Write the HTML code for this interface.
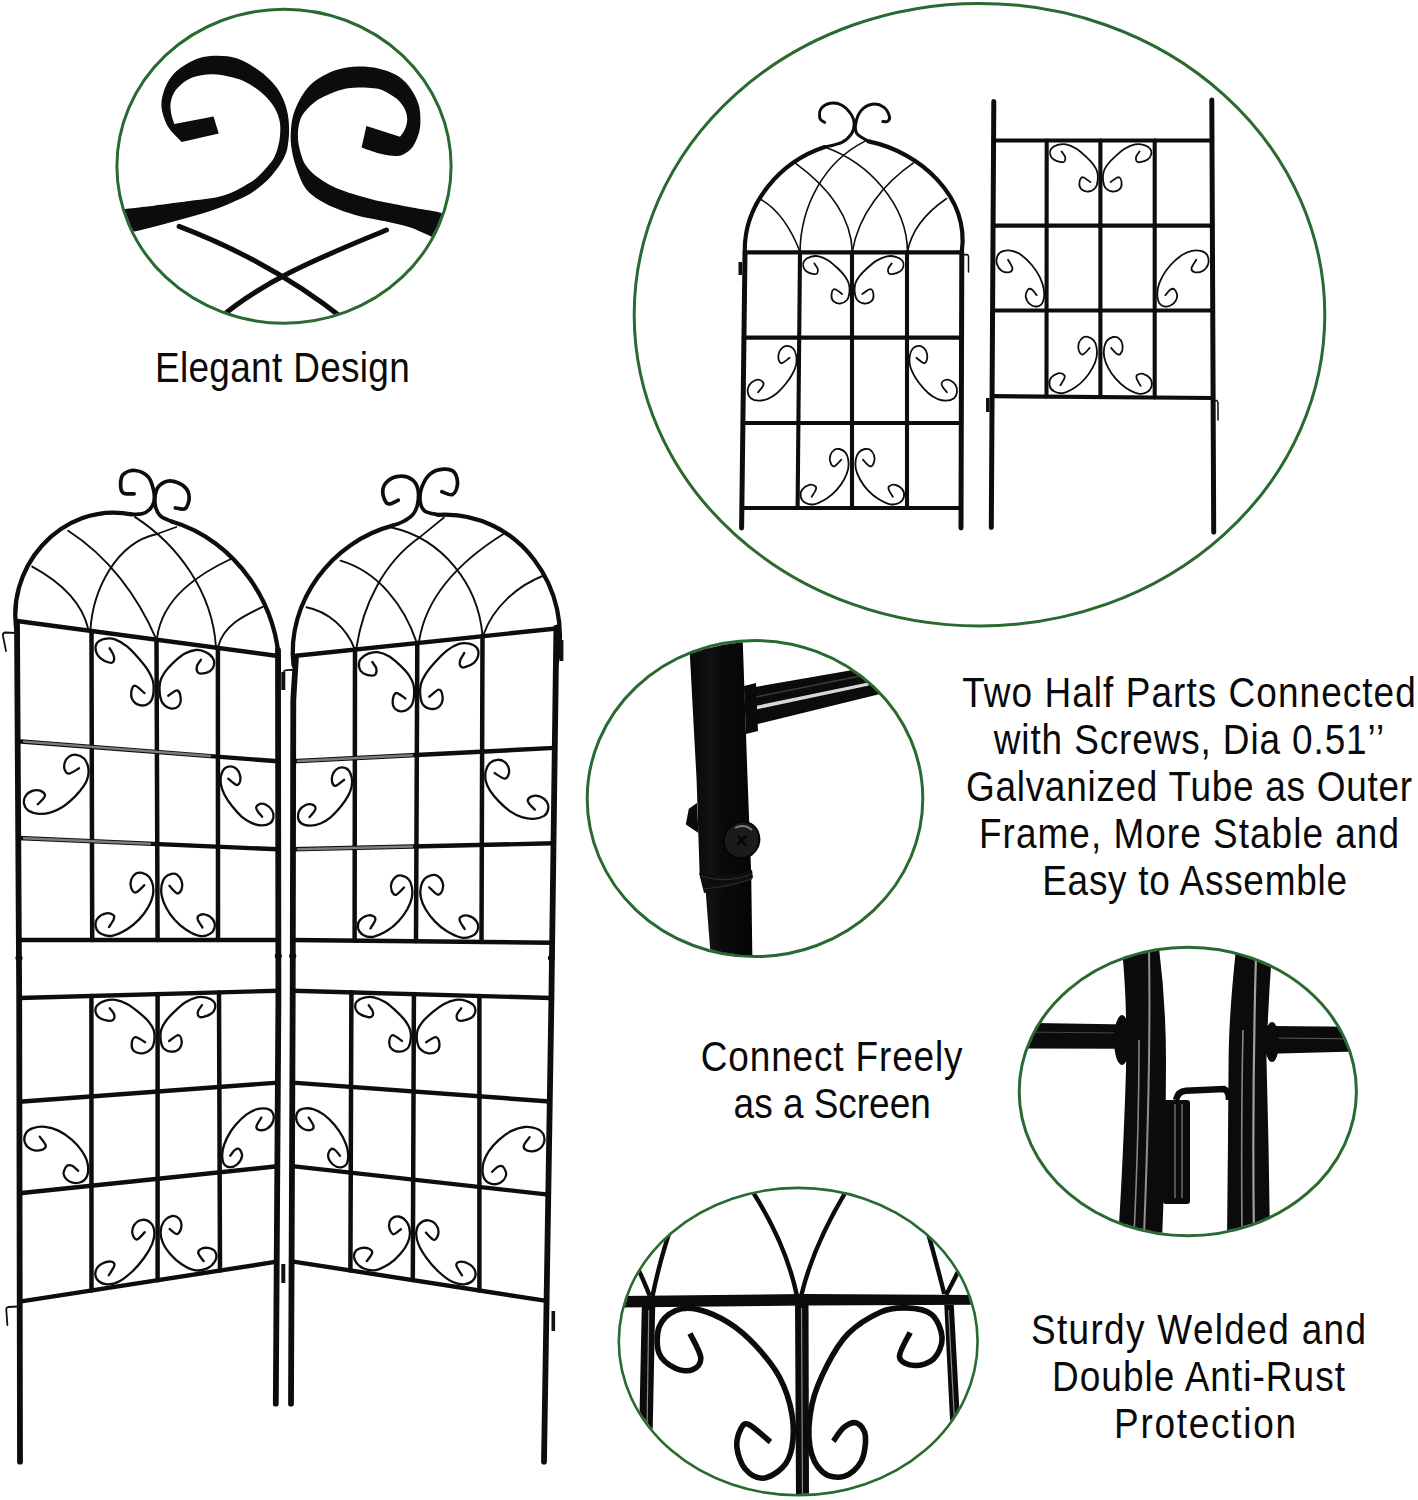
<!DOCTYPE html>
<html><head><meta charset="utf-8">
<style>
html,body{margin:0;padding:0;background:#fff;width:1418px;height:1500px;overflow:hidden}
svg{position:absolute;left:0;top:0;display:block}
text{font-family:"Liberation Sans",sans-serif;fill:#0a0a0a}
</style></head>
<body>
<svg width="1418" height="1500" viewBox="0 0 1418 1500">
<!-- defs -->
<defs>
<clipPath id="c1"><ellipse cx="284" cy="166.2" rx="165.8" ry="155.7"/></clipPath>
<clipPath id="c2"><ellipse cx="979.5" cy="314.7" rx="344" ry="310"/></clipPath>
<clipPath id="c3"><ellipse cx="755" cy="798.6" rx="166.5" ry="156.7"/></clipPath>
<clipPath id="c4"><ellipse cx="1187.8" cy="1091.5" rx="167.3" ry="142.9"/></clipPath>
<clipPath id="c5"><ellipse cx="798.2" cy="1341.6" rx="178.2" ry="152.5"/></clipPath>
</defs>

<!-- texts -->
<g id="texts">
<text transform="translate(155.00,381.5) scale(0.86,1)" x="0" y="0" font-size="43.0" textLength="296.28" lengthAdjust="spacing">Elegant Design</text>
<text transform="translate(962.20,706.7) scale(0.86,1)" x="0" y="0" font-size="43.0" textLength="527.44" lengthAdjust="spacing">Two Half Parts Connected</text>
<text transform="translate(993.80,754) scale(0.86,1)" x="0" y="0" font-size="43.0" textLength="453.95" lengthAdjust="spacing">with Screws, Dia 0.51’’</text>
<text transform="translate(966.00,800.8) scale(0.86,1)" x="0" y="0" font-size="43.0" textLength="518.60" lengthAdjust="spacing">Galvanized Tube as Outer</text>
<text transform="translate(979.00,847.5) scale(0.86,1)" x="0" y="0" font-size="43.0" textLength="488.37" lengthAdjust="spacing">Frame, More Stable and</text>
<text transform="translate(1042.20,895) scale(0.86,1)" x="0" y="0" font-size="43.0" textLength="354.42" lengthAdjust="spacing">Easy to Assemble</text>
<text transform="translate(700.80,1070.9) scale(0.86,1)" x="0" y="0" font-size="43.0" textLength="304.42" lengthAdjust="spacing">Connect Freely</text>
<text transform="translate(733.60,1118.2) scale(0.86,1)" x="0" y="0" font-size="43.0" textLength="229.30" lengthAdjust="spacing">as a Screen</text>
<text transform="translate(1031.00,1343.5) scale(0.86,1)" x="0" y="0" font-size="43.0" textLength="389.53" lengthAdjust="spacing">Sturdy Welded and</text>
<text transform="translate(1052.00,1391) scale(0.86,1)" x="0" y="0" font-size="43.0" textLength="340.70" lengthAdjust="spacing">Double Anti-Rust</text>
<text transform="translate(1114.00,1438) scale(0.86,1)" x="0" y="0" font-size="43.0" textLength="211.63" lengthAdjust="spacing">Protection</text>
</g>
<!-- circles -->
<g fill="none" stroke="#286a30" stroke-width="3">
<ellipse cx="284" cy="166.2" rx="167.1" ry="157"/>
<ellipse cx="979.5" cy="314.7" rx="345.3" ry="311.3"/>
<ellipse cx="755" cy="798.6" rx="167.8" ry="158"/>
<ellipse cx="1187.8" cy="1091.5" rx="168.6" ry="144.2"/>
<ellipse cx="798.2" cy="1341.6" rx="179.4" ry="153.7" stroke-width="2.6"/>
</g>

<!-- photo1 -->
<g clip-path="url(#c1)">
<path d="M181.7,142C179.6,139.7 172.2,133.1 169,128.3C165.8,123.6 163.9,118.1 162.7,113.5C161.5,108.9 161.1,105.4 161.6,100.8C162.1,96.2 163.8,90.6 165.9,86C168,81.4 170.8,77 174.3,73.3C177.8,69.6 182.8,66.4 187,63.8C191.2,61.2 195.3,59.2 199.7,57.9C204.1,56.6 208.9,56.1 213.5,55.8C218.1,55.5 222.8,55.7 227.2,56.3C231.6,56.9 235.5,57.7 239.9,59.5C244.3,61.3 249.3,64.1 253.7,66.9C258.1,69.7 262.5,72.9 266.4,76.4C270.3,79.9 274,83.9 277,88.1C280,92.3 282.5,97.2 284.3,101.8C286.1,106.4 287.2,111 288,115.6C288.8,120.2 289,125.1 289.1,129.3C289.2,133.5 288.9,137.2 288.4,141C287.9,144.8 287.6,148.5 286.3,152.3C285,156.1 283.1,159.8 280.7,163.6C278.3,167.4 275.3,171.4 272.2,174.9C269.1,178.4 265.8,181.8 262.3,184.8C258.8,187.9 255.2,190.6 251,193.2C246.8,195.8 241.6,198.1 236.9,200.3C232.2,202.5 227.5,204.7 222.8,206.6C218.1,208.5 213.9,209.8 208.7,211.5C203.5,213.2 197.7,214.8 191.8,216.5C185.9,218.2 179.6,219.8 173.5,221.4C167.4,223.1 161.4,224.8 155.1,226.4C148.8,228.1 141.5,229.8 135.4,231.3C129.3,232.8 124.4,234.1 118.5,235.5C112.6,236.9 103.1,239.2 100,240L100,211C103.1,210.7 114,209.8 118.5,209.4C123,209 121.3,209.3 126.9,208.7C132.5,208.1 144.5,206.8 152.3,205.9C160.1,205 166.4,204 173.5,203.1C180.6,202.2 187.5,201.2 194.6,200.3C201.7,199.4 209.9,198.6 215.8,197.4C221.7,196.2 225.2,195.1 229.9,193.2C234.6,191.3 239.8,188.5 244,186.2C248.2,183.8 251.8,181.9 255.3,179.1C258.8,176.3 262.3,172.2 265.1,169.2C267.9,166.1 270.3,163.6 272.2,160.8C274.1,158 275.2,155.6 276.4,152.3C277.6,149 278.6,144.7 279.3,141C280,137.3 280.2,133.8 280.3,130.4C280.4,127.1 280.3,124.2 279.6,120.9C278.9,117.6 277.6,113.7 275.9,110.3C274.2,106.9 272,103.8 269.5,100.8C267,97.8 264.1,94.9 261.1,92.3C258.1,89.7 255.1,87.5 251.6,85.4C248.1,83.3 244.1,81.2 239.9,79.6C235.7,78 230.6,76.8 226.2,75.9C221.8,75 217.4,74.5 213.5,74.3C209.6,74.1 206.4,74.4 202.9,74.9C199.4,75.4 195.8,76 192.3,77.5C188.8,79 184.7,81.4 181.7,83.9C178.7,86.4 176.2,89.1 174.3,92.3C172.5,95.5 171.1,99.4 170.6,102.9C170.1,106.4 170.6,110 171.2,113.5C171.8,117 173.8,122.2 174.3,124L213.5,116.6L218.8,133.6Z" fill="#0c0c0e"/>
<path d="M361.6,147.6C364.6,148.6 373.6,152.2 379.6,153.6C385.6,155 392.8,156.4 397.6,156C402.4,155.6 405.6,153.2 408.4,151.2C411.2,149.2 412.6,147.2 414.4,144C416.2,140.8 418.2,136 419.2,132C420.2,128 420.4,124.2 420.4,120C420.4,115.8 420.2,111 419.2,106.8C418.2,102.6 416.6,98.8 414.4,94.8C412.2,90.8 409.2,86.2 406,82.8C402.8,79.4 399.8,76.8 395.2,74.4C390.6,72 384.6,69.7 378.4,68.4C372.2,67.1 364.4,66.5 358,66.6C351.6,66.7 345.4,67.7 340,69C334.6,70.3 330.4,71.9 325.6,74.4C320.8,76.9 315.4,80 311.2,84C307,88 303.4,93.2 300.4,98.4C297.4,103.6 294.8,109.6 293.2,115.2C291.6,120.8 291.1,126.6 290.8,132C290.5,137.4 290.6,142 291.4,147.6C292.2,153.2 293.5,159.2 295.6,165.6C297.7,172 300.6,180.6 304,186C307.4,191.4 311,194.4 316,198C321,201.6 327.6,204.8 334,207.6C340.4,210.4 347.4,212.8 354.4,214.8C361.4,216.8 369.4,218.2 376,219.6C382.6,221 388,221.8 394,223.2C400,224.6 405.4,225.6 412,228C418.6,230.4 427.6,235 433.6,237.6C439.6,240.2 445.6,242.6 448,243.6L448,214.8C446.6,214.4 445.6,213.6 439.6,212.4C433.6,211.2 419.6,209 412,207.6C404.4,206.2 400,205.2 394,204C388,202.8 382,201.8 376,200.4C370,199 364,197.4 358,195.6C352,193.8 345.4,191.8 340,189.6C334.6,187.4 330,185 325.6,182.4C321.2,179.8 317,177 313.6,174C310.2,171 307.2,167.4 305.2,164.4C303.2,161.4 302.7,159.4 301.6,156C300.5,152.6 299.2,148 298.6,144C298,140 297.8,135.8 298,132C298.2,128.2 298.8,124.4 299.8,121.2C300.8,118 301.5,116 304,112.8C306.5,109.6 310.8,105 314.8,102C318.8,99 323.4,96.9 328,94.8C332.6,92.7 337.4,90.6 342.4,89.4C347.4,88.2 352.8,87.8 358,87.6C363.2,87.4 369.6,87.8 373.6,88.2C377.6,88.6 378.8,88.7 382,90C385.2,91.3 389.8,94 392.8,96C395.8,98 397.9,99.6 400,102C402.1,104.4 404.2,107.4 405.4,110.4C406.6,113.4 407.3,116.8 407.2,120C407.1,123.2 406,126.8 404.8,129.6C403.6,132.4 400.8,135.6 400,136.8L366.4,126Z" fill="#0c0c0e"/>
<g fill="none" stroke="#0c0c0e" stroke-width="5" stroke-linecap="round">
<path d="M179.1,226.4C238.5,249.1 295.2,280.3 345,320"/>
<path d="M386.5,230C327.1,254.7 263.8,278.9 215,322"/>
</g>
</g>
<!-- trellis2 -->
<g fill="none" stroke="#0d0d0d" stroke-linecap="round" stroke-linejoin="round">
<path d="M745,252.4 L741.6,528" stroke-width="5"/>
<path d="M961.8,252.4 L961,528" stroke-width="5"/>
<path d="M744.8,251.8C743.8,203.5 780.2,161.8 824.7,147.1" stroke-width="4.2"/>
<path d="M824.7,147.1C827.6,146.3 837.5,144.6 841.9,142.4C846.3,140.2 849.3,136.8 851.4,133.8C853.5,130.8 854.2,127.5 854.2,124.3C854.2,121.1 853.5,118 851.4,114.8C849.3,111.6 845.4,107.1 841.9,105.2C838.4,103.3 833.9,102.7 830.4,103.3C826.9,103.9 822.6,106.5 820.9,109C819.2,111.5 819.4,116.4 820,118.6C820.6,120.8 823.9,121.8 824.7,122.4" stroke-width="3.0"/>
<path d="M961.8,251.8C969.4,195.6 919.2,151.8 868.5,141.4" stroke-width="4.2"/>
<path d="M868.5,141.4C866.6,140.1 859.2,136.7 857.1,133.8C855,131 855,128.1 855.6,124.3C856.2,120.5 858.1,114.2 860.9,110.9C863.7,107.6 868.5,104.9 872.3,104.3C876.1,103.7 880.8,105 883.7,107.1C886.6,109.2 888.9,114.3 889.5,116.7C890.1,119.1 888.7,120.6 887.6,121.4C886.5,122.2 883.6,121.4 882.8,121.4" stroke-width="3.0"/>
<path d="M745,252.4L961.8,252.4" stroke-width="4.2"/>
<path d="M743.9,337.6L961.6,337.6" stroke-width="4.2"/>
<path d="M742.9,423L961.3,423" stroke-width="4.2"/>
<path d="M741.8,508L961.1,508" stroke-width="4.2"/>
<path d="M800,252.4L797.6,508" stroke-width="4.1"/>
<path d="M852,252.4L852,508" stroke-width="4.1"/>
<path d="M907,252.4L907,508" stroke-width="4.1"/>
<path d="M760.9,199.5Q785.1,213.3 800,251.8" stroke-width="1.6"/>
<path d="M794.3,162.4C823.5,183.4 851,213.5 852.3,251.8" stroke-width="1.6"/>
<path d="M800,251.8C800.7,206.9 823.6,161.9 864.7,141.4" stroke-width="1.6"/>
<path d="M824.7,147.1C868.3,162.7 907.1,203.6 907.5,251.8" stroke-width="1.6"/>
<path d="M852.3,251.8C858.3,214.6 883.8,183.2 914.2,162.4" stroke-width="1.6"/>
<path d="M907.5,251.8Q913,221.5 946.6,198.5" stroke-width="1.6"/>
<path d="M814.4,263.4C814.9,264.3 817.2,267.1 817.7,268.8C818.2,270.4 817.8,272.3 817.2,273.2C816.5,274.1 815.6,274.4 813.8,274.1C812,273.8 808.4,272.7 806.6,271.4C804.8,270.2 803.7,268.3 803.3,266.6C802.9,264.8 803.1,262.3 804.3,260.7C805.5,259.1 808.2,257.6 810.6,256.8C813,256.1 815.8,255.7 818.8,256.3C821.7,256.9 825.2,258.4 828.3,260.4C831.5,262.4 835.1,265.8 837.9,268.5C840.7,271.1 843.3,273.8 845.1,276.4C846.9,279 848.2,281.2 848.9,283.9C849.7,286.6 849.7,289.9 849.4,292.6C849.1,295.3 848.5,298.2 847,300C845.4,301.8 842.4,303.3 840.2,303.5C837.9,303.7 834.8,302.6 833.4,301.2C832,299.8 831.3,296.8 831.5,294.8C831.7,292.8 832.7,289.3 834.4,289.2C836.2,289 840.9,293.2 842.1,294" stroke-width="1.8"/>
<path d="M891.7,263.4C891.1,264.3 888.7,267.1 888.2,268.8C887.7,270.4 888,272.3 888.7,273.2C889.4,274.1 890.4,274.4 892.2,274.1C894.1,273.8 898,272.7 899.9,271.4C901.7,270.2 903,268.3 903.4,266.6C903.8,264.8 903.6,262.3 902.4,260.7C901.1,259.1 898.3,257.6 895.8,256.8C893.2,256.1 890.3,255.7 887.1,256.3C884,256.9 880.4,258.4 877,260.4C873.6,262.4 869.8,265.8 866.8,268.5C863.9,271.1 861.2,273.8 859.3,276.4C857.3,279 856,281.2 855.2,283.9C854.5,286.6 854.4,289.9 854.7,292.6C855.1,295.3 855.7,298.2 857.3,300C858.9,301.8 862,303.3 864.4,303.5C866.8,303.7 870,302.6 871.5,301.2C873,299.8 873.7,296.8 873.5,294.8C873.3,292.8 872.3,289.3 870.5,289.2C868.6,289 863.7,293.2 862.3,294" stroke-width="1.8"/>
<path d="M789.5,357.8C788.2,358.7 783.6,362.9 781.8,363.2C780,363.6 779.2,361.4 778.7,359.8C778.2,358.2 778.3,355.5 778.8,353.5C779.4,351.5 780.6,349.2 782.1,347.9C783.5,346.6 785.6,345.7 787.5,345.8C789.3,345.9 791.7,346.8 793.2,348.5C794.6,350.1 795.7,352.9 796.2,355.6C796.7,358.3 796.6,361.6 796.1,364.6C795.5,367.5 794.5,370.2 792.8,373.3C791.1,376.5 788.7,380.2 786,383.5C783.4,386.8 779.9,390.6 776.9,393.2C773.9,395.7 770.8,397.5 767.8,398.8C764.8,400 761.7,400.7 758.8,400.6C756,400.6 752.6,399.6 750.8,398.2C748.9,396.8 748,394.3 747.7,392.1C747.5,390 748,387.2 749.2,385.2C750.3,383.3 752.8,381.4 754.7,380.5C756.5,379.6 758.6,379.5 760,380C761.5,380.5 763.2,382.2 763.6,383.4C763.9,384.6 763.1,385.7 762.2,387.2C761.2,388.7 758.7,391.4 758,392.3" stroke-width="1.8"/>
<path d="M916.4,357.8C917.7,358.7 922.1,362.9 923.9,363.2C925.6,363.6 926.4,361.4 926.9,359.8C927.4,358.2 927.4,355.5 926.9,353.5C926.4,351.5 925.2,349.2 923.8,347.9C922.4,346.6 920.3,345.7 918.5,345.8C916.7,345.9 914.3,346.8 912.8,348.5C911.4,350.1 910.3,352.9 909.8,355.6C909.3,358.3 909.3,361.6 909.8,364.6C910.4,367.5 911.3,370.2 913,373.3C914.6,376.5 917,380.2 919.5,383.5C922.1,386.8 925.4,390.6 928.4,393.2C931.3,395.7 934.3,397.5 937.2,398.8C940.2,400 943.2,400.7 946,400.6C948.8,400.6 952.1,399.6 954,398.2C955.8,396.8 956.7,394.3 957,392.1C957.3,390 956.8,387.2 955.7,385.2C954.6,383.3 952.2,381.4 950.4,380.5C948.6,379.6 946.6,379.5 945.1,380C943.6,380.5 941.9,382.2 941.6,383.4C941.2,384.6 942,385.7 942.9,387.2C943.8,388.7 946.2,391.4 946.9,392.3" stroke-width="1.8"/>
<path d="M841.3,459.7C840.1,460.8 836.1,465.8 834.3,466.3C832.5,466.7 831,464.2 830.4,462.3C829.7,460.4 829.7,457.2 830.4,455.1C831.1,453 832.9,450.7 834.4,449.7C835.9,448.7 837.6,448.6 839.4,449C841.2,449.4 843.8,450.6 845.3,452.3C846.8,454.1 847.8,456.7 848.2,459.4C848.7,462.2 848.9,465.4 848.2,468.7C847.5,472 846.1,475.7 844.2,479.2C842.3,482.8 839.6,486.7 836.7,489.9C833.8,493.1 830.4,496.2 826.7,498.6C822.9,501 817.7,503.7 814.1,504.3C810.5,505 807.4,503.9 805.2,502.7C802.9,501.4 801.2,498.9 800.7,496.7C800.2,494.5 800.9,491.3 802.3,489.4C803.7,487.4 807.2,485.5 809.3,484.9C811.5,484.4 814.2,485.4 815.3,486.2C816.4,487 816.4,488.1 815.8,489.8C815.2,491.6 812.4,495.6 811.7,496.7" stroke-width="1.8"/>
<path d="M862.9,459.7C864.1,460.8 868.1,465.8 870,466.3C871.9,466.7 873.4,464.2 874,462.3C874.7,460.4 874.7,457.2 874,455.1C873.3,453 871.5,450.7 870,449.7C868.4,448.7 866.8,448.6 864.9,449C863.1,449.4 860.4,450.6 858.8,452.3C857.3,454.1 856.3,456.7 855.8,459.4C855.3,462.2 855.2,465.4 855.8,468.7C856.5,472 858,475.7 859.9,479.2C861.9,482.8 864.6,486.7 867.5,489.9C870.5,493.1 873.9,496.2 877.7,498.6C881.5,501 886.7,503.7 890.3,504.3C893.9,505 897.1,503.9 899.4,502.7C901.7,501.4 903.4,498.9 903.9,496.7C904.4,494.5 903.8,491.3 902.4,489.4C901,487.4 897.5,485.5 895.3,484.9C893.1,484.4 890.4,485.4 889.3,486.2C888.2,487 888.2,488.1 888.8,489.8C889.4,491.6 892.1,495.6 892.8,496.7" stroke-width="1.8"/>
<path d="M993.8,101.4 L991.3,527.5" stroke-width="5"/>
<path d="M1211.8,99.9 L1213.7,532.3" stroke-width="5"/>
<path d="M993.6,140.5L1212,140.5" stroke-width="4.2"/>
<path d="M993.1,225.6L1212.4,225.6" stroke-width="4.2"/>
<path d="M992.6,310.5L1212.7,310.5" stroke-width="4.2"/>
<path d="M992.1,396.2L1213.1,398" stroke-width="4.2"/>
<path d="M1046.7,140.5L1046.5,396.6" stroke-width="4.1"/>
<path d="M1100.4,140.5L1100.4,397.1" stroke-width="4.1"/>
<path d="M1154.7,140.5L1154.7,397.5" stroke-width="4.1"/>
<path d="M1061.6,151.5C1062.2,152.4 1064.6,155.2 1065.1,156.8C1065.6,158.5 1065.2,160.4 1064.6,161.3C1063.9,162.2 1062.9,162.4 1061.1,162.2C1059.3,161.9 1055.5,160.8 1053.7,159.5C1051.8,158.3 1050.6,156.4 1050.2,154.6C1049.8,152.9 1050,150.4 1051.2,148.8C1052.5,147.2 1055.2,145.7 1057.7,144.9C1060.2,144.2 1063,143.8 1066.1,144.4C1069.2,145 1072.7,146.5 1076,148.5C1079.3,150.5 1083,153.9 1085.9,156.6C1088.8,159.2 1091.4,161.9 1093.3,164.5C1095.2,167 1096.5,169.2 1097.3,171.9C1098,174.6 1098.1,178 1097.7,180.7C1097.4,183.4 1096.8,186.2 1095.2,188C1093.7,189.8 1090.6,191.3 1088.3,191.5C1086,191.7 1082.8,190.7 1081.3,189.2C1079.9,187.8 1079.2,184.9 1079.4,182.9C1079.5,180.9 1080.6,177.4 1082.4,177.2C1084.2,177.1 1089,181.2 1090.3,182" stroke-width="1.8"/>
<path d="M1139.6,151.5C1139,152.4 1136.6,155.2 1136.1,156.8C1135.6,158.5 1136,160.4 1136.6,161.3C1137.3,162.2 1138.3,162.4 1140.1,162.2C1142,161.9 1145.8,160.8 1147.6,159.5C1149.5,158.3 1150.7,156.4 1151.1,154.6C1151.6,152.9 1151.4,150.4 1150.1,148.8C1148.9,147.2 1146.1,145.7 1143.6,144.9C1141.1,144.2 1138.2,143.8 1135.1,144.4C1132,145 1128.4,146.5 1125.1,148.5C1121.7,150.5 1118,153.9 1115.1,156.6C1112.1,159.2 1109.5,161.9 1107.6,164.5C1105.6,167 1104.3,169.2 1103.6,171.9C1102.8,174.6 1102.8,178 1103.1,180.7C1103.4,183.4 1104,186.2 1105.6,188C1107.2,189.8 1110.3,191.3 1112.6,191.5C1115,191.7 1118.2,190.7 1119.7,189.2C1121.2,187.8 1121.8,184.9 1121.6,182.9C1121.5,180.9 1120.5,177.4 1118.6,177.2C1116.8,177.1 1111.9,181.2 1110.6,182" stroke-width="1.8"/>
<path d="M1008,259.7C1008.7,261.1 1012.2,266.1 1012.4,268.2C1012.6,270.3 1011.1,271.7 1009.4,272.2C1007.7,272.6 1004,272.2 1001.9,270.9C999.9,269.6 997.7,266.8 997,264.3C996.3,261.7 996.6,257.9 997.6,255.7C998.6,253.5 1000.6,252 1003,251.2C1005.4,250.4 1008.8,250.1 1012,250.8C1015.1,251.5 1018.6,253.1 1021.9,255.4C1025.2,257.8 1028.9,261.5 1031.8,265C1034.7,268.4 1037.3,272.2 1039.3,276.2C1041.2,280.2 1043.1,284.8 1043.7,288.9C1044.4,293.1 1044.2,298.3 1043.1,301.2C1042.1,304.1 1039.8,305.8 1037.7,306.3C1035.5,306.8 1032.2,306 1030.2,304.4C1028.2,302.8 1026.1,299.1 1025.7,296.6C1025.4,294.1 1027.1,290.5 1028.2,289.4C1029.3,288.2 1030.8,288.8 1032.2,289.7C1033.6,290.7 1035.9,294.2 1036.7,295.1" stroke-width="1.8"/>
<path d="M1196.3,259.7C1195.5,261.1 1191.7,266.1 1191.5,268.2C1191.2,270.3 1192.8,271.7 1194.7,272.2C1196.6,272.6 1200.5,272.2 1202.7,270.9C1205,269.6 1207.3,266.8 1208.1,264.3C1208.9,261.7 1208.5,257.9 1207.5,255.7C1206.4,253.5 1204.2,252 1201.6,251.2C1199,250.4 1195.3,250.1 1192,250.8C1188.6,251.5 1184.9,253.1 1181.3,255.4C1177.8,257.8 1173.7,261.5 1170.6,265C1167.5,268.4 1164.7,272.2 1162.6,276.2C1160.5,280.2 1158.5,284.8 1157.8,288.9C1157.1,293.1 1157.3,298.3 1158.4,301.2C1159.5,304.1 1161.9,305.8 1164.3,306.3C1166.6,306.8 1170.2,306 1172.3,304.4C1174.5,302.8 1176.8,299.1 1177.1,296.6C1177.5,294.1 1175.6,290.5 1174.4,289.4C1173.3,288.2 1171.7,288.8 1170.2,289.7C1168.7,290.7 1166.2,294.2 1165.4,295.1" stroke-width="1.8"/>
<path d="M1089.7,347.9C1088.6,349 1084.6,354.1 1082.8,354.5C1081,354.9 1079.5,352.3 1078.8,350.5C1078.2,348.6 1078.2,345.2 1078.8,343.1C1079.5,341 1081.3,338.7 1082.8,337.7C1084.3,336.7 1085.9,336.5 1087.8,336.9C1089.6,337.4 1092.2,338.6 1093.7,340.4C1095.2,342.1 1096.2,344.8 1096.6,347.6C1097.1,350.4 1097.3,353.7 1096.6,357.1C1096,360.4 1094.6,364.2 1092.6,367.7C1090.7,371.3 1088.1,375.3 1085.2,378.5C1082.3,381.8 1079,384.9 1075.3,387.3C1071.5,389.8 1066.4,392.4 1062.9,393.1C1059.3,393.7 1056.2,392.6 1053.9,391.3C1051.7,390 1050,387.4 1049.5,385.2C1049,382.9 1049.6,379.8 1051,377.8C1052.4,375.8 1055.8,373.9 1058,373.3C1060.1,372.8 1062.8,373.8 1063.9,374.7C1065,375.5 1065,376.5 1064.4,378.3C1063.8,380.1 1061.1,384.1 1060.4,385.3" stroke-width="1.8"/>
<path d="M1111.2,348C1112.3,349.1 1116.3,354.2 1118.2,354.6C1120,355.1 1121.5,352.5 1122.2,350.6C1122.8,348.7 1122.8,345.4 1122.1,343.2C1121.5,341.1 1119.6,338.8 1118.1,337.8C1116.6,336.7 1115,336.6 1113.1,337C1111.3,337.4 1108.7,338.6 1107.2,340.4C1105.7,342.2 1104.7,344.8 1104.2,347.6C1103.7,350.4 1103.5,353.7 1104.2,357.1C1104.9,360.5 1106.3,364.2 1108.2,367.8C1110.1,371.4 1112.8,375.4 1115.7,378.7C1118.6,382.1 1122,385.2 1125.7,387.7C1129.5,390.2 1134.6,392.9 1138.2,393.6C1141.8,394.4 1145,393.3 1147.2,392C1149.4,390.7 1151.2,388.2 1151.7,385.9C1152.2,383.6 1151.6,380.4 1150.2,378.4C1148.7,376.4 1145.3,374.4 1143.2,373.8C1141,373.3 1138.3,374.3 1137.2,375.1C1136.1,375.9 1136.1,377 1136.7,378.8C1137.3,380.6 1140,384.7 1140.7,385.9" stroke-width="1.8"/>
<path d="M962,255 L967,254.5 Q968.5,255 968.5,257 L968.5,272" stroke-width="1.5"/>
<path d="M1213,401 L1216.5,400.5 Q1218,401 1218,403 L1218,420" stroke-width="1.5"/>
</g>
<g fill="#111"><rect x="738.5" y="262" width="3.6" height="13"/><rect x="986" y="398" width="3.6" height="14"/></g>
<!-- photo3 -->
<g clip-path="url(#c3)">
<defs><linearGradient id="tubeV" x1="0" x2="1" y1="0" y2="0"><stop offset="0" stop-color="#060606"/><stop offset="0.35" stop-color="#121214"/><stop offset="0.55" stop-color="#0a0a0a"/><stop offset="1" stop-color="#050505"/></linearGradient><linearGradient id="tubeH" x1="0" x2="0" y1="0" y2="1"><stop offset="0" stop-color="#050505"/><stop offset="0.4" stop-color="#151515"/><stop offset="0.52" stop-color="#cfcfcf"/><stop offset="0.6" stop-color="#141414"/><stop offset="1" stop-color="#050505"/></linearGradient></defs>
<path d="M744,689 L848.4,670.7 L940,654 L940,677 L876,695 L749.5,726 Z" fill="#0b0b0b"/>
<path d="M753,706.5 L868,682.5 L869,685.5 L753.5,710 Z" fill="#d8d8d8"/>
<path d="M756,697 L860,676" stroke="#3c3c3c" stroke-width="1.5"/>
<path d="M744,686 L756,683 L758,731 L746,734 Z" fill="#0a0a0a"/>
<path d="M688,620 L742,620 L747.6,780 L751.2,873.6 L752.4,960 L711,960 L705.6,890.4 L699.6,873.6 L696.6,780 Z" fill="url(#tubeV)"/>
<path d="M699,873 Q725,880 752,870 L753,878 Q728,890 704,893 Z" fill="#0e0e0e"/>
<path d="M701,876 Q726,884 752,874 M703,889 Q727,887 752,879" fill="none" stroke="#2e2e2e" stroke-width="1.2"/>
<path d="M697,803 L688.8,808.8 L685.8,824.4 L698.4,833 Z" fill="#0a0a0a"/>
<ellipse cx="741.6" cy="840" rx="17.5" ry="18.5" transform="rotate(30 741.6 840)" fill="#1b1b1d" stroke="#050505" stroke-width="2"/>
<path d="M735,828 Q744,823 752,830" fill="none" stroke="#7a7a7a" stroke-width="2"/>
<path d="M737,845 L746,836 M738,836 L746,846" stroke="#050505" stroke-width="2.5"/>
</g>
<!-- photo4 -->
<g clip-path="url(#c4)">
<path d="M1121,940 Q1129,1010 1125,1100 Q1122,1180 1118,1240 L1162,1240 Q1166,1150 1166,1060 Q1166,1000 1158,940 Z" fill="#0b0b0b"/>
<path d="M1149,950 Q1151,1060 1144,1235" fill="none" stroke="#909090" stroke-width="2"/>
<path d="M1139,1040 Q1139,1130 1134,1235" fill="none" stroke="#858585" stroke-width="1.6"/>
<path d="M1237,940 Q1229,1010 1228.6,1060 Q1228,1150 1227,1240 L1270,1240 Q1269,1150 1266.5,1060 Q1268,1000 1273,940 Z" fill="#0b0b0b"/>
<path d="M1256,955 Q1252,1100 1254,1240" fill="none" stroke="#a0a0a0" stroke-width="2.2"/>
<path d="M1243,1030 Q1241,1120 1242,1235" fill="none" stroke="#888" stroke-width="1.6"/>
<path d="M1010,1022.5 L1128,1024.4 L1128,1048.8 L1010,1048.5 Z" fill="#0b0b0b"/>
<path d="M1020,1032 L1122,1033" stroke="#444" stroke-width="1.2"/>
<ellipse cx="1122" cy="1040" rx="8" ry="25" fill="#0b0b0b"/>
<path d="M1262,1025.8 L1370,1027 L1370,1051.2 L1262,1053.9 Z" fill="#0b0b0b"/>
<path d="M1272,1038 L1360,1039" stroke="#555" stroke-width="1.2"/>
<ellipse cx="1272" cy="1042" rx="7" ry="20" fill="#0b0b0b"/>
<path d="M1176,1100 Q1178,1091 1186,1090.7 L1224,1089 Q1229,1091 1229,1100" fill="none" stroke="#0b0b0b" stroke-width="6.5"/>
<rect x="1163" y="1100" width="27" height="104" rx="3" fill="#0b0b0b"/>
<path d="M1175,1104 L1175,1198 M1182,1104 L1182,1198" stroke="#7a7a7a" stroke-width="1.3"/>
</g>
<!-- photo5 -->
<g clip-path="url(#c5)" fill="none" stroke="#0b0b0b" stroke-linecap="butt">
<path d="M600,1296.3 L805,1294 L990,1295.1 L990,1304.7 L805,1305.5 L600,1307.8 Z" fill="#0b0b0b" stroke="none"/>
<path d="M641.8,1306 L655.2,1306 L652.5,1440 L639,1440 Z" fill="#0b0b0b" stroke="none"/>
<path d="M795,1300 L808.5,1300 L809,1500 L796,1500 Z" fill="#0b0b0b" stroke="none"/>
<path d="M944.3,1305 L953.8,1305 L961,1440 L951,1440 Z" fill="#0b0b0b" stroke="none"/>
<path d="M648.8,1310 L647,1430 M801.5,1308 L802.5,1500 M948.5,1310 L955,1430" stroke="#8a8a8a" stroke-width="1.2"/>
<path d="M745,1180C768.9,1215.2 788.3,1254.2 797,1296" stroke-width="4.4"/>
<path d="M853,1180Q814,1241.9 801.4,1295.1" stroke-width="4.4"/>
<path d="M672,1225C663.7,1248.1 657.5,1272 652.5,1296" stroke-width="4.4"/>
<path d="M632,1260Q637.3,1264.2 649.8,1296" stroke-width="4.4"/>
<path d="M925,1228Q923.9,1214.2 944.3,1294" stroke-width="4.4"/>
<path d="M962,1262Q960,1269.1 946,1295" stroke-width="4.4"/>
<path d="M690,1333.5C691.8,1337.5 700.3,1351.6 700.8,1357.6C701.2,1363.6 697,1367.9 692.7,1369.7C688.5,1371.5 680.9,1371 675.3,1368.3C669.7,1365.6 661.9,1360.5 659.2,1353.6C656.5,1346.7 656.5,1333.9 659.2,1326.8C661.9,1319.7 668.8,1313.6 675.3,1310.7C681.8,1307.8 689.2,1307.4 698.1,1309.4C707,1311.4 719.3,1316.8 728.9,1322.8C738.5,1328.8 747.2,1336.4 755.7,1345.6C764.2,1354.8 773.8,1366.3 779.8,1377.7C785.8,1389.1 789.9,1402.3 791.9,1413.9C793.9,1425.5 793.5,1438.5 791.9,1447.4C790.3,1456.3 787.4,1462.4 782.5,1467.5C777.6,1472.6 768.6,1478 762.4,1478.2C756.1,1478.4 749.2,1473.9 745,1468.8C740.8,1463.7 737.6,1454.1 736.9,1447.4C736.2,1440.7 739,1432.4 741,1428.6C743,1424.8 744.1,1422.4 749,1424.6C753.9,1426.8 766.8,1439.1 770.4,1442" stroke-width="5.6" stroke-linecap="butt"/>
<path d="M910.1,1332.5C908.3,1336.6 898.8,1351.5 899.5,1357C900.2,1362.5 908.7,1365.2 914.4,1365.5C920.1,1365.8 929,1363.7 933.6,1359.1C938.2,1354.5 942.5,1345.3 942.1,1337.8C941.8,1330.3 937.5,1319.3 931.5,1314.3C925.5,1309.3 914.4,1308.2 905.9,1307.9C897.4,1307.6 889.9,1307.9 880.3,1312.2C870.7,1316.5 857.2,1324.6 848.3,1333.5C839.4,1342.4 833,1353.8 827,1365.5C821,1377.2 815,1390.4 812.1,1403.9C809.2,1417.4 808.1,1435.1 809.9,1446.5C811.7,1457.9 817,1467.1 822.7,1472.1C828.4,1477.1 837.6,1478.2 844,1476.4C850.4,1474.6 857.5,1468.2 861.1,1461.5C864.7,1454.8 866.1,1442.3 865.4,1435.9C864.7,1429.5 860.4,1424.5 856.8,1423.1C853.2,1421.7 847.9,1424.3 844,1427.3C840.1,1430.3 835.2,1438.9 833.4,1441.2" stroke-width="5.6" stroke-linecap="butt"/>
</g>
<!-- trellis_main -->
<g fill="none" stroke="#0d0d0d" stroke-linecap="round" stroke-linejoin="round">
<path d="M20,1461.7 L19.2,1000 L17,624" stroke-width="5.8"/>
<path d="M278,650 L278.4,1000 L275.8,1403.7" stroke-width="5.8"/>
<path d="M17.9,637.5C1.9,569.2 61.1,500.7 131.7,514.3" stroke-width="4.3"/>
<path d="M131.7,514.3C133.4,514.2 139.2,514.6 142.2,513.8C145.2,513 147.6,511.5 149.6,509.5C151.6,507.5 153.2,505.3 153.9,502C154.6,498.7 154.5,494.1 153.5,489.9C152.5,485.7 151.2,479.9 148.1,476.7C145,473.5 139,470.9 134.9,470.5C130.8,470.1 125.7,472.1 123.3,474.4C120.9,476.7 120.6,481.4 120.6,484.5C120.6,487.6 121,491.4 123.3,493C125.5,494.6 132.3,493.7 134.1,493.8" stroke-width="3.7"/>
<path d="M278.8,672C281.3,606.4 235.1,539.8 171.7,521.5" stroke-width="4.3"/>
<path d="M171.7,521.5C169.8,520.6 163.2,518.6 160.4,515.9C157.7,513.1 155.8,509.3 155.2,505C154.6,500.7 155.1,493.7 156.6,489.9C158.1,486.1 161.6,483.6 164.4,482.2C167.2,480.8 170.2,480.5 173.7,481.4C177.2,482.3 182.7,484.9 185.3,487.6C187.9,490.3 189.2,494.2 189.2,497.7C189.2,501.2 187.6,506.8 185.3,508.5C183,510.2 177,507.9 175.3,507.8" stroke-width="3.7"/>
<path d="M17,621L278,656" stroke-width="4.4"/>
<path d="M17.7,741.2L278.1,761.3" stroke-width="4.4"/>
<path d="M18.3,838L278.2,849.3" stroke-width="4.4"/>
<path d="M18.8,940L278.3,940" stroke-width="4.4"/>
<path d="M19.2,998L278.4,990.7" stroke-width="4.4"/>
<path d="M19.4,1101.7L277.9,1082.6" stroke-width="4.4"/>
<path d="M19.5,1193.3L277.3,1166.3" stroke-width="4.4"/>
<path d="M19.7,1301.7L276.7,1261.7" stroke-width="4.4"/>
<path d="M91.5,631L92.2,940" stroke-width="4.5"/>
<path d="M156.5,639.7L157.6,940" stroke-width="4.5"/>
<path d="M217.9,647.9L218,940" stroke-width="4.5"/>
<path d="M91.4,996L91.5,1290.5" stroke-width="4.5"/>
<path d="M157.6,994.1L157.6,1280.2" stroke-width="4.5"/>
<path d="M219,992.4L220,1270.5" stroke-width="4.5"/>
<path d="M32.2,566.6C57.1,580.1 81.5,600.1 88.3,629.1" stroke-width="1.9"/>
<path d="M68.2,530.7C108,556.3 137.5,595.5 156,638.6" stroke-width="1.9"/>
<path d="M90.4,630.1C92.8,591 115.3,542.9 157,534" stroke-width="1.9"/>
<path d="M134.8,516.9C179,545.5 212.3,592.8 215.9,646.2" stroke-width="1.9"/>
<path d="M157,638.2C162.3,597.3 199,573.7 232.9,558" stroke-width="1.9"/>
<path d="M218.2,646.2C224.6,623.7 245.7,614.9 264.6,606" stroke-width="1.9"/>
<path d="M157,534 L176.3,527" stroke-width="1.7"/>
<path d="M109.6,648.3C110.3,649.5 113.2,653.7 113.8,656C114.4,658.2 114,660.8 113.2,661.9C112.4,663 111.2,663.2 109,662.5C106.8,661.9 102.2,659.9 100,657.9C97.8,655.9 96.3,653.2 95.8,650.8C95.3,648.3 95.5,645 97,643C98.5,641 101.8,639.4 104.8,638.8C107.8,638.2 111.3,638.1 115,639.3C118.7,640.6 123,643.2 127,646.4C131,649.6 135.5,654.7 139,658.7C142.5,662.7 145.7,666.6 148,670.3C150.3,674 151.9,677 152.9,680.7C153.8,684.4 153.9,688.8 153.5,692.3C153.1,695.8 152.4,699.5 150.5,701.7C148.6,703.9 144.9,705.5 142.1,705.5C139.3,705.5 135.5,703.7 133.7,701.6C131.9,699.5 131,695.5 131.2,692.9C131.4,690.2 132.6,685.7 134.8,685.7C137,685.8 142.9,691.9 144.5,693.1" stroke-width="2.3"/>
<path d="M200.9,659.8C200.2,660.9 197.5,664.2 196.9,666.2C196.4,668.2 196.7,670.8 197.5,672C198.3,673.3 199.4,673.8 201.5,673.6C203.5,673.5 207.9,672.6 209.9,671.3C212,669.9 213.4,667.7 213.9,665.5C214.4,663.3 214.2,660.1 212.7,657.9C211.3,655.6 208.2,653.3 205.4,652C202.5,650.6 199.2,649.7 195.7,650C192.2,650.3 188.2,651.7 184.4,653.8C180.6,656 176.4,659.8 173.1,662.9C169.9,666 166.9,669.2 164.7,672.3C162.6,675.4 161.1,678.1 160.2,681.6C159.4,685 159.3,689.4 159.7,693C160.1,696.6 160.8,700.4 162.6,703C164.4,705.5 167.9,707.8 170.5,708.3C173.2,708.9 176.7,707.9 178.4,706.2C180.1,704.5 180.9,700.8 180.7,698.1C180.5,695.5 179.3,690.8 177.2,690.4C175.2,690 169.7,694.8 168.2,695.7" stroke-width="2.3"/>
<path d="M79,768.3C77.3,769.2 71.3,773.5 68.9,773.7C66.5,773.9 65.4,771.4 64.7,769.6C64,767.7 64.1,764.7 64.8,762.5C65.5,760.3 67.1,757.9 69,756.6C70.9,755.3 73.7,754.5 76.2,754.8C78.7,755.1 81.9,756.4 83.9,758.3C85.8,760.3 87.3,763.5 88,766.5C88.7,769.5 88.7,773.2 88,776.4C87.3,779.7 86,782.5 83.8,785.9C81.6,789.2 78.3,793.1 74.9,796.6C71.4,800 66.9,804.1 62.9,806.7C58.9,809.3 54.9,811.1 50.9,812.3C46.9,813.5 42.7,814.1 38.9,813.8C35.1,813.5 30.7,812.2 28.2,810.5C25.7,808.7 24.4,805.8 24,803.4C23.6,800.9 24.3,797.8 25.8,795.7C27.3,793.5 30.6,791.6 33,790.7C35.4,789.9 38.2,790 40.1,790.6C42.1,791.3 44.4,793.3 44.9,794.7C45.4,796.1 44.3,797.3 43.1,798.9C41.9,800.5 38.6,803.4 37.7,804.3" stroke-width="2.3"/>
<path d="M228.3,778.7C229.7,779.7 234.6,784.4 236.6,784.9C238.5,785.4 239.4,783.3 240,781.6C240.5,779.9 240.5,777.1 239.9,774.9C239.4,772.8 238,770.3 236.5,768.9C234.9,767.4 232.6,766.3 230.6,766.3C228.6,766.2 226,767 224.4,768.6C222.8,770.2 221.6,773 221,775.8C220.5,778.6 220.5,782.2 221.1,785.3C221.7,788.5 222.7,791.3 224.5,794.7C226.3,798.2 229,802.2 231.8,805.8C234.7,809.5 238.4,813.7 241.6,816.6C244.9,819.4 248.2,821.5 251.4,822.9C254.7,824.4 258.1,825.3 261.2,825.4C264.3,825.5 268,824.7 270,823.3C272,822 273,819.5 273.4,817.2C273.7,815 273.1,812.1 271.8,810C270.6,807.9 267.9,805.8 266,804.8C264,803.8 261.7,803.5 260.1,803.9C258.5,804.3 256.6,806 256.2,807.2C255.8,808.4 256.7,809.7 257.7,811.3C258.7,812.9 261.4,815.8 262.1,816.7" stroke-width="2.3"/>
<path d="M144.4,885.2C143,886.4 138.2,892 136,892.4C133.8,892.9 132,890 131.2,887.8C130.4,885.7 130.4,881.9 131.2,879.6C132,877.2 134.2,874.7 136,873.6C137.8,872.5 139.8,872.4 142,872.9C144.2,873.5 147.4,874.9 149.2,876.9C151,879 152.2,882 152.9,885.1C153.5,888.2 153.7,891.9 152.9,895.6C152.1,899.3 150.4,903.4 148.1,907.4C145.8,911.4 142.6,915.8 139.1,919.4C135.6,923 131.6,926.5 127.1,929.3C122.6,932 116.3,935 112,935.8C107.7,936.5 103.9,935.3 101.2,933.8C98.5,932.3 96.4,929.4 95.8,926.9C95.2,924.3 95.9,920.7 97.6,918.4C99.3,916.2 103.4,913.9 106,913.4C108.6,912.8 111.9,914 113.2,914.9C114.5,915.9 114.5,917.1 113.8,919.1C113.1,921.1 109.8,925.7 109,927" stroke-width="2.3"/>
<path d="M169.4,885.8C170.7,887.1 175.2,892.8 177.2,893.3C179.3,893.8 180.9,891.1 181.7,889C182.4,886.9 182.4,883.3 181.6,880.9C180.9,878.6 178.8,876 177.2,874.8C175.5,873.6 173.6,873.4 171.6,873.8C169.5,874.3 166.6,875.5 164.9,877.4C163.3,879.3 162.2,882.2 161.6,885.3C161.1,888.4 160.9,892 161.7,895.8C162.4,899.5 164,903.7 166.2,907.7C168.3,911.7 171.3,916.1 174.6,919.7C177.9,923.4 181.6,926.8 185.8,929.5C189.9,932.2 195.7,935.2 199.7,935.9C203.6,936.7 207.2,935.5 209.7,934.1C212.1,932.7 214.1,930 214.6,927.6C215.2,925.1 214.5,921.7 212.9,919.5C211.4,917.3 207.6,915.1 205.1,914.5C202.7,913.9 199.7,915 198.5,915.9C197.3,916.8 197.3,917.9 197.9,919.8C198.6,921.8 201.7,926.2 202.4,927.5" stroke-width="2.3"/>
<path d="M109.8,1008.3C110.5,1009.4 113.5,1012.5 114.1,1014.4C114.7,1016.3 114.3,1018.6 113.4,1019.6C112.6,1020.7 111.4,1021.1 109.2,1020.8C106.9,1020.5 102.2,1019.5 100,1018.1C97.8,1016.7 96.2,1014.6 95.7,1012.5C95.2,1010.4 95.4,1007.5 97,1005.6C98.5,1003.6 101.9,1001.8 104.9,1000.8C108,999.8 111.6,999.3 115.3,999.8C119.1,1000.4 123.5,1002 127.5,1004.2C131.6,1006.4 136.2,1010.2 139.7,1013.1C143.3,1016.1 146.5,1019 148.9,1021.9C151.2,1024.8 152.8,1027.2 153.7,1030.2C154.6,1033.3 154.7,1037.2 154.3,1040.3C153.9,1043.4 153.2,1046.7 151.2,1048.8C149.3,1051 145.5,1052.9 142.7,1053.3C139.8,1053.7 136,1052.7 134.1,1051.2C132.3,1049.6 131.5,1046.2 131.7,1043.9C131.9,1041.6 133.1,1037.5 135.4,1037.2C137.6,1036.9 143.5,1041.4 145.1,1042.2" stroke-width="2.3"/>
<path d="M202,1005.2C201.3,1006.2 198.6,1009.4 198,1011.3C197.5,1013.1 197.9,1015.3 198.6,1016.3C199.4,1017.2 200.5,1017.5 202.6,1017.1C204.7,1016.7 209,1015.3 211.1,1013.8C213.2,1012.3 214.6,1010.2 215,1008.2C215.5,1006.2 215.3,1003.5 213.9,1001.8C212.4,1000 209.3,998.4 206.5,997.7C203.6,997 200.3,996.6 196.8,997.3C193.3,998.1 189.3,999.9 185.5,1002.3C181.7,1004.7 177.5,1008.7 174.2,1011.9C170.9,1015 167.9,1018.2 165.7,1021.2C163.5,1024.2 162,1026.8 161.2,1029.9C160.4,1033 160.3,1036.9 160.7,1039.9C161,1043 161.7,1046.2 163.5,1048.2C165.3,1050.1 168.8,1051.6 171.5,1051.7C174.1,1051.8 177.7,1050.4 179.4,1048.7C181.1,1047 181.9,1043.6 181.7,1041.4C181.5,1039.1 180.3,1035.2 178.3,1035.1C176.2,1035.1 170.7,1040 169.2,1041" stroke-width="2.3"/>
<path d="M39.7,1136.7C40.7,1138.2 45.3,1143.1 45.7,1145.3C46,1147.5 44,1149.2 41.7,1149.9C39.3,1150.6 34.5,1150.7 31.7,1149.5C28.9,1148.3 26,1145.6 25,1142.9C24,1140.3 24.4,1136.1 25.7,1133.6C27,1131.2 29.8,1129.3 33,1128.2C36.2,1127 40.8,1126.4 45,1126.8C49.2,1127.2 53.8,1128.4 58.3,1130.6C62.7,1132.7 67.8,1136.2 71.7,1139.6C75.5,1142.9 79,1146.6 81.6,1150.6C84.3,1154.5 86.7,1159.1 87.6,1163.4C88.5,1167.8 88.2,1173.3 86.9,1176.5C85.6,1179.6 82.5,1181.7 79.6,1182.5C76.7,1183.4 72.3,1183 69.6,1181.6C67,1180.1 64.1,1176.5 63.6,1173.9C63.2,1171.3 65.5,1167.3 66.9,1165.9C68.4,1164.6 70.3,1165 72.2,1165.8C74.1,1166.6 77.2,1170 78.2,1170.8" stroke-width="2.3"/>
<path d="M261.3,1117.6C260.5,1119.1 256.7,1124.4 256.4,1126.5C256.2,1128.5 257.8,1129.8 259.7,1130.1C261.5,1130.4 265.5,1129.7 267.7,1128.2C270,1126.7 272.3,1123.7 273.1,1121.1C274,1118.5 273.7,1114.7 272.6,1112.7C271.5,1110.6 269.3,1109.3 266.7,1108.7C264.1,1108.1 260.4,1108.2 257,1109.2C253.6,1110.1 249.9,1112 246.3,1114.6C242.7,1117.3 238.6,1121.4 235.5,1125.1C232.3,1128.8 229.6,1132.9 227.4,1137.1C225.3,1141.3 223.4,1146.1 222.7,1150.3C222,1154.6 222.2,1159.8 223.3,1162.6C224.4,1165.4 226.8,1166.8 229.2,1167.1C231.5,1167.4 235,1166.2 237.2,1164.4C239.3,1162.5 241.6,1158.6 242,1156.1C242.3,1153.5 240.5,1150.2 239.3,1149.2C238.1,1148.1 236.5,1148.8 235,1149.9C233.5,1151 231,1154.8 230.2,1155.7" stroke-width="2.3"/>
<path d="M144.8,1232.2C143.5,1233.4 138.9,1239.3 136.8,1239.5C134.7,1239.7 132.8,1235.8 132.4,1233.4C132,1230.9 132.7,1226.9 134.4,1224.7C136.1,1222.4 139.6,1220 142.4,1219.8C145.2,1219.6 149.2,1221.3 151.2,1223.5C153.2,1225.6 154.2,1229.2 154.4,1232.7C154.5,1236.2 153.7,1240.2 152,1244.4C150.2,1248.7 147.2,1253.6 144,1258C140.8,1262.4 137,1267 132.8,1271C128.5,1275 122.9,1279.7 118.4,1281.9C113.9,1284.1 109.2,1284.6 105.6,1284.1C102,1283.6 98.4,1281.3 96.8,1279C95.2,1276.6 95.1,1272.8 96,1270.2C96.9,1267.7 99.9,1265 102.4,1263.6C104.9,1262.2 109.2,1261.3 111.2,1261.7C113.2,1262 114.8,1263.2 114.4,1265.5C114,1267.7 109.7,1273.6 108.8,1275.2" stroke-width="2.3"/>
<path d="M169.7,1229C170.9,1229.8 175.3,1234.4 177.2,1234.1C179.1,1233.8 181,1229.5 181.3,1227C181.7,1224.5 181,1220.8 179.4,1219C177.9,1217.2 174.5,1215.6 171.9,1216.1C169.3,1216.6 165.5,1219.3 163.6,1221.9C161.8,1224.5 160.8,1228.4 160.6,1231.9C160.5,1235.4 161.3,1239.2 162.9,1242.9C164.5,1246.7 167.4,1250.7 170.4,1254.2C173.5,1257.7 177,1261.1 181,1263.8C185,1266.5 190.3,1269.4 194.6,1270.2C198.9,1271 203.3,1270.1 206.7,1268.6C210.1,1267.1 213.5,1263.8 215,1261.2C216.5,1258.6 216.6,1254.9 215.7,1252.7C214.8,1250.6 212,1248.9 209.6,1248.2C207.2,1247.6 203.2,1247.9 201.3,1248.8C199.5,1249.6 198,1251.3 198.3,1253.3C198.7,1255.4 202.8,1259.8 203.6,1261.1" stroke-width="2.3"/>
</g>
<g fill="none" stroke="#0d0d0d" stroke-linecap="round" stroke-linejoin="round">
<path d="M291,1403.7 L292.7,1000 L293.3,700 L295.9,657.6" stroke-width="5.8"/>
<path d="M556.4,627.6 L551.4,1000 L544,1461.7" stroke-width="5.8"/>
<path d="M293.5,665C286.3,601.8 332.1,541.4 392.6,525.6" stroke-width="4.3"/>
<path d="M392.6,525.6C394.5,524.9 400.6,523 404,521.1C407.4,519.2 410.7,517.1 413,514.3C415.3,511.5 416.8,508.2 417.6,504.1C418.4,500 418.9,493.7 418,489.6C417.1,485.5 415.2,481.9 412.3,479.7C409.4,477.5 404.4,475.9 400.3,476.2C396.2,476.4 390.5,478.6 387.6,481.2C384.7,483.8 382.7,487.9 382.7,491.7C382.7,495.4 385,502.3 387.6,503.7C390.2,505.1 396.4,500.8 398.2,500.2" stroke-width="3.7"/>
<path d="M556.2,665C575.2,589.7 518.3,510.2 438.3,514.8" stroke-width="4.3"/>
<path d="M438.3,514.8C436,514.1 427.7,513.1 424.7,510.9C421.7,508.7 420.7,505.6 420.2,501.8C419.7,498 419.9,492.8 421.5,488.2C423.1,483.6 426.2,477.3 430,474.1C433.8,470.9 439.9,469.4 444,469.2C448.1,469 452.4,470.1 454.6,472.7C456.8,475.3 457.8,481 457.4,484.7C457,488.4 455.1,493.4 452.5,494.6C449.9,495.8 443.7,492.2 441.9,491.7" stroke-width="3.7"/>
<path d="M296,655.7L556.4,628.5" stroke-width="4.4"/>
<path d="M293.2,761.3L554.8,747.9" stroke-width="4.4"/>
<path d="M293,849.3L553.5,843.3" stroke-width="4.4"/>
<path d="M292.8,940L552.2,942.7" stroke-width="4.4"/>
<path d="M292.7,990.7L551.4,998" stroke-width="4.4"/>
<path d="M292.4,1082.6L549.8,1101.5" stroke-width="4.4"/>
<path d="M292,1166.1L548.3,1194.6" stroke-width="4.4"/>
<path d="M291.6,1261.3L546.6,1300.9" stroke-width="4.4"/>
<path d="M355,649.5L354.6,940.6" stroke-width="4.5"/>
<path d="M417.3,643L416,941.3" stroke-width="4.5"/>
<path d="M482.5,636.2L481.5,942" stroke-width="4.5"/>
<path d="M351.4,992.3L350.4,1270.4" stroke-width="4.5"/>
<path d="M413.9,994.1L412.8,1280.1" stroke-width="4.5"/>
<path d="M479.4,996L479.4,1290.4" stroke-width="4.5"/>
<path d="M306.5,607.2C328.5,611.5 346.9,628.4 354.7,649.1" stroke-width="1.9"/>
<path d="M340.5,560.7C378.7,572 404.3,605.8 416.5,642" stroke-width="1.9"/>
<path d="M356.4,648C362.7,605.9 383.2,563.3 418.7,538.1" stroke-width="1.9"/>
<path d="M391.5,527.5C442.5,538.7 478.3,584.4 482.5,635.5" stroke-width="1.9"/>
<path d="M419.1,641.2C426.5,593 465.7,557.3 505,533" stroke-width="1.9"/>
<path d="M483.6,634.4C493.4,606.7 517.9,585.2 545,575" stroke-width="1.9"/>
<path d="M418.7,538.1 L444,517.5" stroke-width="1.7"/>
<path d="M372.3,661.9C372.9,663 375.7,666.3 376.3,668.4C376.8,670.4 376.4,673 375.7,674.2C374.9,675.4 373.8,675.8 371.6,675.6C369.5,675.5 365.1,674.5 363,673.1C360.9,671.6 359.5,669.4 359.1,667.2C358.6,664.9 358.8,661.8 360.2,659.6C361.7,657.4 364.8,655.1 367.7,653.9C370.6,652.7 374,651.8 377.5,652.2C381,652.6 385.2,654.1 389,656.3C392.8,658.6 397.1,662.6 400.4,665.7C403.7,668.9 406.8,672.1 409,675.3C411.1,678.5 412.6,681.2 413.5,684.7C414.3,688.2 414.4,692.6 414,696.1C413.6,699.7 412.9,703.5 411.1,706C409.2,708.5 405.7,710.7 403,711.1C400.3,711.6 396.7,710.5 395,708.8C393.3,707 392.5,703.3 392.7,700.7C393,698 394.1,693.4 396.2,693C398.3,692.7 403.8,697.6 405.4,698.5" stroke-width="2.3"/>
<path d="M464.3,652.9C463.6,654.2 460.7,658.2 460.1,660.5C459.5,662.7 459.9,665.3 460.7,666.4C461.5,667.5 462.7,667.8 464.9,667.2C467.1,666.6 471.7,664.7 473.9,662.8C476.2,660.9 477.7,658.3 478.2,655.8C478.7,653.4 478.5,650.1 477,648C475.5,646 472.2,644.3 469.2,643.6C466.1,642.9 462.6,642.7 458.9,643.9C455.2,645.1 450.9,647.5 446.9,650.6C442.9,653.7 438.3,658.6 434.8,662.5C431.3,666.4 428.1,670.2 425.8,673.8C423.5,677.4 421.8,680.4 420.9,684.1C420,687.7 419.9,692.1 420.3,695.6C420.7,699.1 421.4,702.8 423.3,705.1C425.2,707.3 428.9,709 431.7,709C434.5,709.1 438.4,707.5 440.2,705.4C442,703.4 442.8,699.4 442.6,696.8C442.4,694.1 441.2,689.6 439,689.6C436.8,689.5 430.9,695.5 429.3,696.7" stroke-width="2.3"/>
<path d="M344.2,779.8C342.8,780.8 337.7,785.4 335.7,785.9C333.7,786.3 332.8,784.1 332.2,782.5C331.7,780.8 331.7,777.9 332.3,775.8C332.9,773.7 334.2,771.3 335.8,769.9C337.4,768.4 339.8,767.4 341.8,767.4C343.9,767.4 346.6,768.2 348.2,769.9C349.9,771.5 351.1,774.4 351.7,777.2C352.2,780 352.2,783.5 351.6,786.6C351,789.7 349.9,792.6 348.1,795.9C346.2,799.3 343.5,803.3 340.6,806.8C337.6,810.4 333.9,814.6 330.5,817.3C327.2,820.1 323.8,822.1 320.5,823.5C317.1,824.9 313.6,825.7 310.5,825.7C307.3,825.7 303.5,824.9 301.5,823.5C299.4,822.1 298.3,819.6 298,817.3C297.7,815.1 298.3,812.2 299.6,810.1C300.8,808.1 303.6,806 305.6,805C307.6,804.1 309.9,803.9 311.6,804.3C313.3,804.7 315.2,806.4 315.6,807.7C316,808.9 315.1,810.1 314.1,811.7C313,813.3 310.3,816.2 309.5,817.1" stroke-width="2.3"/>
<path d="M494.6,773.1C496.2,774 502.1,778.4 504.4,778.6C506.8,778.9 507.9,776.5 508.5,774.7C509.2,772.9 509.2,769.9 508.6,767.7C507.9,765.6 506.3,763.1 504.4,761.8C502.6,760.4 499.8,759.6 497.4,759.8C495,760 491.8,761.2 489.9,763.1C487.9,765 486.4,768.1 485.8,771.1C485.1,774 485.1,777.7 485.8,780.9C486.5,784.1 487.8,787 489.9,790.3C492,793.7 495.2,797.6 498.6,801.1C502,804.6 506.4,808.7 510.2,811.4C514.1,814.1 518,815.9 521.9,817.2C525.8,818.4 529.9,819.1 533.5,818.9C537.2,818.7 541.6,817.5 544.1,815.9C546.5,814.2 547.8,811.4 548.2,809C548.6,806.6 547.9,803.4 546.5,801.3C545,799.2 541.8,797.2 539.5,796.3C537.2,795.5 534.4,795.4 532.5,796.1C530.5,796.7 528.3,798.6 527.8,800C527.3,801.3 528.4,802.6 529.5,804.1C530.7,805.7 533.9,808.7 534.8,809.6" stroke-width="2.3"/>
<path d="M404,887.5C402.7,888.8 398.1,894.3 396.1,894.8C394,895.3 392.3,892.5 391.6,890.5C390.8,888.4 390.8,884.8 391.6,882.5C392.4,880.2 394.5,877.7 396.2,876.5C397.9,875.4 399.8,875.2 401.8,875.6C403.9,876.1 406.9,877.3 408.6,879.3C410.3,881.2 411.4,884.1 411.9,887.1C412.5,890.2 412.7,893.8 411.9,897.5C411.1,901.2 409.5,905.3 407.3,909.2C405.1,913.1 402.1,917.5 398.7,921C395.4,924.6 391.6,928 387.4,930.6C383.1,933.2 377.3,936.1 373.2,936.8C369.2,937.5 365.6,936.3 363.1,934.9C360.6,933.5 358.6,930.7 358,928.3C357.5,925.9 358.1,922.5 359.8,920.3C361.4,918.2 365.2,916.1 367.7,915.5C370.1,914.9 373.2,916 374.5,916.9C375.7,917.8 375.7,918.9 375,920.9C374.3,922.8 371.2,927.1 370.5,928.4" stroke-width="2.3"/>
<path d="M429.2,887.3C430.6,888.5 435.4,894.1 437.6,894.6C439.8,895 441.6,892.2 442.4,890.1C443.3,888 443.3,884.3 442.5,882C441.7,879.6 439.5,877.1 437.7,876C435.9,874.9 433.8,874.7 431.6,875.2C429.4,875.8 426.2,877.1 424.4,879.1C422.6,881 421.4,884 420.8,887.1C420.2,890.1 420,893.8 420.8,897.4C421.6,901.1 423.3,905.2 425.6,909.2C427.9,913.1 431.1,917.5 434.6,921.1C438.1,924.8 442.1,928.3 446.6,931C451.1,933.8 457.3,936.8 461.6,937.6C465.9,938.4 469.8,937.2 472.5,935.8C475.2,934.4 477.3,931.5 477.9,929C478.5,926.5 477.8,922.9 476.1,920.7C474.4,918.5 470.3,916.2 467.7,915.6C465.1,915 461.8,916.1 460.5,917.1C459.2,918 459.2,919.1 459.9,921.1C460.6,923.1 463.9,927.7 464.7,929" stroke-width="2.3"/>
<path d="M368.7,1005.2C369.4,1006.2 372.2,1009.4 372.7,1011.3C373.3,1013.1 372.9,1015.3 372.1,1016.3C371.3,1017.2 370.2,1017.5 368.1,1017.1C366,1016.7 361.5,1015.3 359.4,1013.8C357.3,1012.3 355.9,1010.2 355.4,1008.2C355,1006.2 355.2,1003.5 356.6,1001.7C358.1,1000 361.3,998.4 364.2,997.7C367,996.9 370.4,996.6 374,997.3C377.5,998.1 381.6,999.9 385.5,1002.3C389.3,1004.7 393.6,1008.7 397,1011.9C400.3,1015 403.4,1018.2 405.6,1021.2C407.7,1024.2 409.3,1026.8 410.1,1029.9C411,1033 411,1036.9 410.6,1039.9C410.2,1043 409.5,1046.2 407.7,1048.2C405.8,1050.1 402.3,1051.6 399.6,1051.7C396.9,1051.8 393.2,1050.4 391.5,1048.7C389.8,1047 389.1,1043.6 389.3,1041.4C389.5,1039.1 390.7,1035.2 392.8,1035.1C394.9,1035.1 400.4,1040 402,1041" stroke-width="2.3"/>
<path d="M461.2,1008.3C460.5,1009.3 457.6,1012.5 457,1014.4C456.4,1016.3 456.8,1018.6 457.6,1019.6C458.4,1020.7 459.6,1021.1 461.8,1020.8C464,1020.5 468.7,1019.4 470.9,1018.1C473.1,1016.7 474.6,1014.6 475.1,1012.5C475.6,1010.4 475.4,1007.5 473.9,1005.6C472.4,1003.6 469,1001.7 466,1000.8C463,999.8 459.5,999.2 455.7,999.8C452,1000.4 447.7,1002 443.6,1004.2C439.6,1006.4 435.1,1010.2 431.5,1013.1C428,1016.1 424.8,1019 422.4,1021.9C420.1,1024.8 418.5,1027.2 417.6,1030.2C416.7,1033.3 416.6,1037.2 417,1040.3C417.4,1043.4 418.1,1046.7 420,1048.8C421.9,1051 425.7,1052.9 428.5,1053.3C431.3,1053.7 435.2,1052.7 437,1051.2C438.8,1049.6 439.6,1046.2 439.4,1043.9C439.2,1041.6 438,1037.5 435.8,1037.2C433.6,1036.9 427.7,1041.4 426.1,1042.2" stroke-width="2.3"/>
<path d="M308.7,1117.6C309.5,1119 313.3,1124.3 313.6,1126.4C313.8,1128.5 312.2,1129.8 310.3,1130.1C308.4,1130.4 304.4,1129.6 302.1,1128.1C299.9,1126.6 297.5,1123.6 296.7,1121C295.9,1118.4 296.2,1114.7 297.3,1112.6C298.4,1110.5 300.7,1109.2 303.3,1108.7C305.9,1108.1 309.7,1108.1 313.1,1109.1C316.5,1110.1 320.3,1112 323.9,1114.6C327.5,1117.3 331.6,1121.4 334.8,1125.2C337.9,1128.9 340.7,1133 342.9,1137.2C345,1141.4 347,1146.3 347.7,1150.5C348.4,1154.8 348.2,1160.1 347.1,1162.9C346,1165.6 343.4,1167 341.1,1167.3C338.7,1167.6 335.1,1166.4 332.9,1164.5C330.8,1162.7 328.4,1158.7 328.1,1156.2C327.7,1153.6 329.6,1150.3 330.8,1149.3C332,1148.2 333.6,1148.9 335.1,1150.1C336.7,1151.2 339.2,1154.9 340,1155.9" stroke-width="2.3"/>
<path d="M529.6,1137.2C528.6,1138.6 524,1143.6 523.7,1145.9C523.3,1148.1 525.2,1149.8 527.5,1150.6C529.7,1151.3 534.5,1151.3 537.2,1150.1C539.9,1148.9 542.7,1146.1 543.7,1143.4C544.7,1140.7 544.4,1136.5 543.2,1134C541.9,1131.5 539.3,1129.6 536.1,1128.5C533,1127.3 528.6,1126.6 524.5,1127C520.4,1127.5 515.9,1128.8 511.6,1130.9C507.2,1133.1 502.3,1136.7 498.6,1140.1C494.8,1143.5 491.5,1147.2 488.9,1151.2C486.3,1155.3 484,1159.9 483.1,1164.3C482.3,1168.7 482.5,1174.3 483.8,1177.5C485.1,1180.7 488,1182.8 490.8,1183.7C493.5,1184.5 497.8,1184.1 500.3,1182.7C502.9,1181.2 505.7,1177.5 506.1,1174.9C506.6,1172.2 504.4,1168.2 503,1166.8C501.6,1165.4 499.7,1165.8 497.9,1166.7C496.1,1167.5 493.1,1170.9 492.1,1171.8" stroke-width="2.3"/>
<path d="M400.9,1229.2C399.6,1230.1 395.3,1234.6 393.3,1234.3C391.4,1233.9 389.6,1229.7 389.2,1227.2C388.8,1224.7 389.5,1221.1 391.1,1219.3C392.7,1217.5 396,1216 398.7,1216.5C401.3,1217 405.1,1219.6 407,1222.3C408.8,1224.9 409.8,1228.7 409.9,1232.2C410.1,1235.6 409.3,1239.4 407.6,1243.1C406,1246.8 403.1,1250.8 400,1254.2C397,1257.7 393.5,1261.1 389.4,1263.8C385.4,1266.4 380.1,1269.3 375.8,1270.1C371.5,1270.9 367.1,1270 363.7,1268.5C360.3,1267 356.9,1263.8 355.4,1261.1C353.9,1258.5 353.8,1254.9 354.7,1252.7C355.6,1250.6 358.4,1248.9 360.8,1248.2C363.2,1247.6 367.2,1247.9 369.1,1248.8C371,1249.6 372.5,1251.3 372.1,1253.3C371.7,1255.3 367.7,1259.7 366.8,1261" stroke-width="2.3"/>
<path d="M425.9,1232.6C427.2,1233.8 431.8,1239.6 433.9,1239.8C436,1240 437.9,1236.2 438.3,1233.7C438.7,1231.3 438,1227.4 436.3,1225.1C434.7,1222.9 431.1,1220.5 428.3,1220.3C425.5,1220.1 421.5,1221.8 419.5,1223.9C417.4,1226 416.4,1229.6 416.2,1233C416.1,1236.5 416.9,1240.5 418.6,1244.6C420.3,1248.8 423.4,1253.7 426.6,1258.1C429.8,1262.5 433.5,1267 437.8,1271C442.1,1275 447.8,1279.7 452.3,1281.8C456.9,1284 461.6,1284.6 465.2,1284.1C468.8,1283.6 472.5,1281.3 474.1,1279C475.7,1276.7 475.8,1272.9 474.9,1270.4C473.9,1267.8 471,1265.2 468.4,1263.8C465.9,1262.4 461.6,1261.5 459.6,1261.8C457.6,1262.1 456,1263.4 456.4,1265.6C456.8,1267.9 461,1273.7 462,1275.3" stroke-width="2.3"/>
</g>
<g fill="none" stroke="#111" stroke-width="1.8" stroke-linecap="round"><path d="M16,633 L5,632.5 Q2.5,633 3,636 L6,651"/><path d="M18,1306.5 L8,1307 Q6,1307.5 6.3,1310 L7.4,1325"/><path d="M284,671 Q287,669.5 292,670"/></g>
<g fill="#111"><rect x="281.3" y="672" width="4" height="18"/><rect x="281.3" y="1264" width="4" height="19"/><rect x="559.8" y="640" width="3.6" height="21"/><rect x="551.5" y="1311" width="3.6" height="20"/></g>
<g fill="none" stroke="#7d7d7d" stroke-width="2.4" stroke-linecap="round"><path d="M24,741.6L210,756"/><path d="M24,838.3L150,843.8"/><path d="M298,761L412,755.2"/><path d="M298,849.2L412,846.5"/></g>
<g fill="#0d0d0d"><ellipse cx="19" cy="958" rx="3.6" ry="3"/><ellipse cx="278.3" cy="956" rx="3.6" ry="3"/><ellipse cx="292.7" cy="956" rx="3.6" ry="3"/><ellipse cx="551.4" cy="958" rx="3.6" ry="3"/></g>
</svg>
</body></html>
